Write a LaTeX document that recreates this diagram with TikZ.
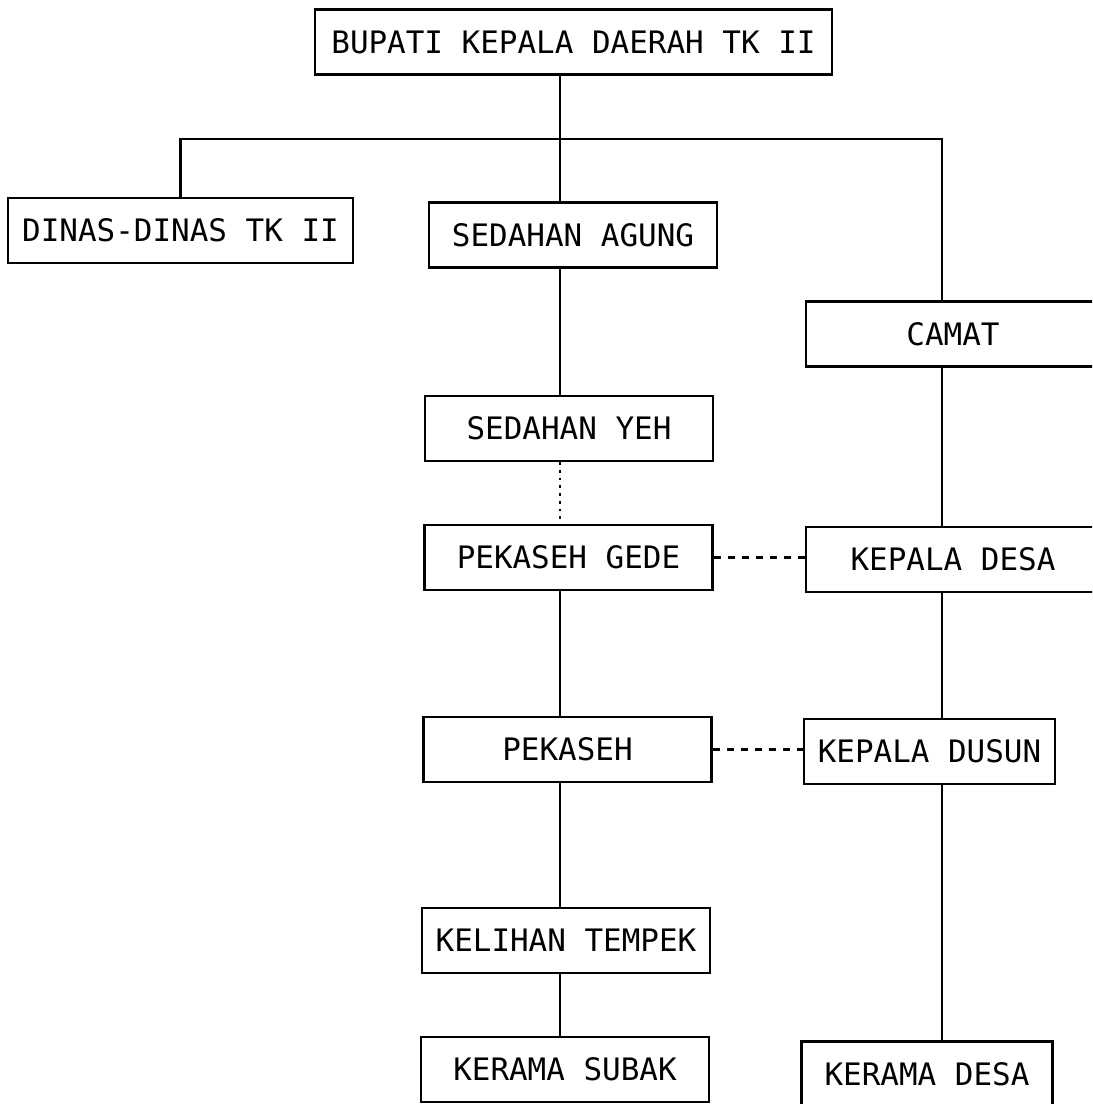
\documentclass[tikz,border=0pt]{standalone}
\usepackage{fontspec}
\setmonofont{DejaVu Sans Mono}
\usepackage{tikz}

\begin{document}
\begin{tikzpicture}[x=0.025cm, y=-0.025cm, line width=1.8pt,
    box/.style={draw, rectangle, inner sep=0pt, minimum height=1.62cm,
      font=\ttfamily\fontsize{22}{26}\selectfont},
    wide/.style={box, minimum width=7.2cm},
    narrow/.style={box, minimum width=6.27cm},
    dotline/.style={line width=2pt, dash pattern=on 2pt off 3.5pt},
    dashline/.style={line width=2.2pt, dash pattern=on 5pt off 5pt}]
  \useasboundingbox (0,0) rectangle (1092,1104);
  \clip (0,0) rectangle (1092,1104);
  % column positions of the connectors
  \coordinate (lcol) at (560,0);
  \coordinate (rcol) at (942,0);
  \coordinate (bar) at (560,139);
  % top
  \node[box, minimum width=12.93cm] (bupati) at (573.5,42) {BUPATI KEPALA DAERAH TK II};
  \node[box, minimum width=8.63cm] (dinas) at (180.5,230.5) {DINAS-DINAS TK II};
  % left column
  \node[wide] (sagung) at (573,235) {SEDAHAN AGUNG};
  \node[wide] (syeh) at (569,428.5) {SEDAHAN YEH};
  \node[wide] (pgede) at (568.5,557.5) {PEKASEH GEDE};
  \node[wide] (pekaseh) at (567.5,749.5) {PEKASEH};
  \node[wide] (tempek) at (566,940.5) {KELIHAN TEMPEK};
  \node[wide] (subak) at (565,1069.5) {KERAMA SUBAK};
  % right column
  \node[box, minimum width=7.35cm] (camat) at (953,334) {CAMAT};
  \node[box, minimum width=7.35cm] (kdesa) at (953,559.5) {KEPALA DESA};
  \node[narrow] (kdusun) at (929.5,751.5) {KEPALA DUSUN};
  \node[narrow] (kerdesa) at (927,1074) {KERAMA DESA};
  % connectors
  \draw (sagung.north -| lcol) -- (bupati.south -| lcol);
  \draw (dinas.north) |- (bar) -| (camat.north -| rcol);
  \draw (sagung.south -| lcol) -- (syeh.north -| lcol);
  \draw[dotline] (syeh.south -| lcol) -- (pgede.north -| lcol);
  \draw (pgede.south -| lcol) -- (pekaseh.north -| lcol);
  \draw (pekaseh.south -| lcol) -- (tempek.north -| lcol);
  \draw (tempek.south -| lcol) -- (subak.north -| lcol);
  \draw (camat.south -| rcol) -- (kdesa.north -| rcol);
  \draw (kdesa.south -| rcol) -- (kdusun.north -| rcol);
  \draw (kdusun.south -| rcol) -- (kerdesa.north -| rcol);
  \draw[dashline] (pgede.east) -- (pgede.east -| kdesa.west);
  \draw[dashline] (pekaseh.east) -- (pekaseh.east -| kdusun.west);
\end{tikzpicture}
\end{document}
